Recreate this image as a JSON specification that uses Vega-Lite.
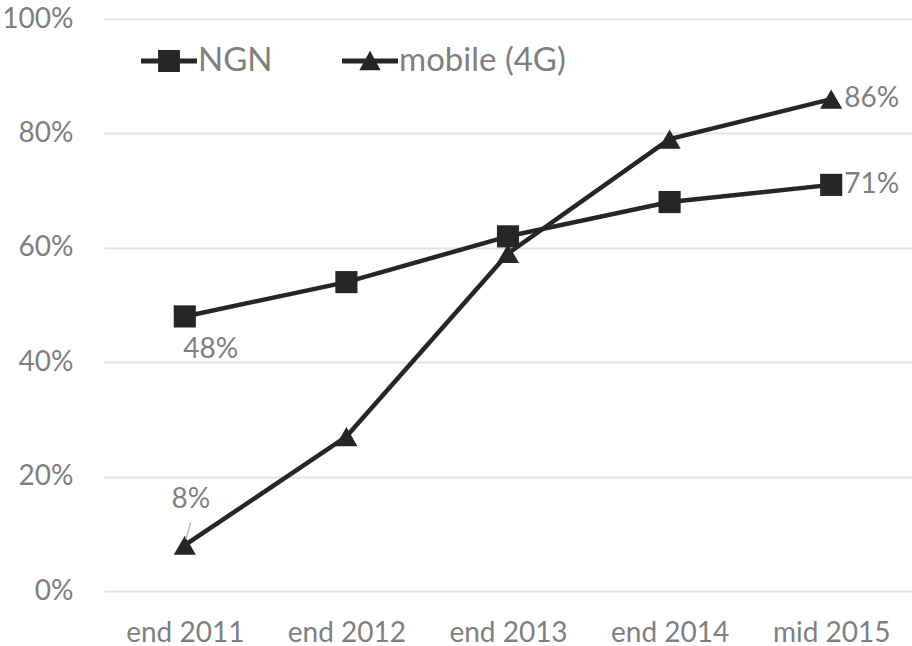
{
  "$schema": "https://vega.github.io/schema/vega-lite/v6.json",
  "width": 808,
  "height": 572,
  "autosize": {"type": "none"},
  "padding": {"left": 104, "top": 19, "right": 0, "bottom": 55},
  "config": {
    "view": {"stroke": null},
    "font": "Lato",
    "axis": {"labelFont": "Lato", "labelColor": "#7f7f7f", "labelFontSize": 28},
    "legend": {"labelFont": "Lato"}
  },
  "data": {
    "values": [
      {"period": "end 2011", "series": "NGN", "value": 0.48},
      {"period": "end 2012", "series": "NGN", "value": 0.54},
      {"period": "end 2013", "series": "NGN", "value": 0.62},
      {"period": "end 2014", "series": "NGN", "value": 0.68},
      {"period": "mid 2015", "series": "NGN", "value": 0.71},
      {"period": "end 2011", "series": "mobile (4G)", "value": 0.08},
      {"period": "end 2012", "series": "mobile (4G)", "value": 0.27},
      {"period": "end 2013", "series": "mobile (4G)", "value": 0.59},
      {"period": "end 2014", "series": "mobile (4G)", "value": 0.79},
      {"period": "mid 2015", "series": "mobile (4G)", "value": 0.86}
    ]
  },
  "resolve": {"scale": {"shape": "independent"}, "legend": {"shape": "independent"}},
  "encoding": {
    "x": {
      "field": "period",
      "type": "ordinal",
      "sort": ["end 2011", "end 2012", "end 2013", "end 2014", "mid 2015"],
      "scale": {"type": "point", "padding": 0.5},
      "axis": {
        "title": null,
        "labelAngle": 0,
        "domain": false,
        "ticks": false,
        "grid": false,
        "labelBaseline": "alphabetic",
        "labelPadding": 50
      }
    },
    "y": {
      "field": "value",
      "type": "quantitative",
      "scale": {"domain": [0, 1], "nice": false},
      "axis": {
        "title": null,
        "values": [0, 0.2, 0.4, 0.6, 0.8, 1],
        "format": ".0%",
        "domain": false,
        "ticks": false,
        "grid": true,
        "gridColor": "#e3e3e3",
        "gridWidth": 2,
        "labelPadding": 31
      }
    }
  },
  "layer": [
    {
      "mark": {"type": "line", "color": "#262626", "strokeWidth": 4.5},
      "encoding": {"detail": {"field": "series"}}
    },
    {
      "mark": {"type": "point", "filled": true, "opacity": 1, "color": "#262626", "size": 490},
      "encoding": {
        "shape": {
          "field": "series",
          "type": "nominal",
          "scale": {"domain": ["NGN", "mobile (4G)"], "range": ["square", "triangle-up"]},
          "legend": null
        }
      }
    },
    {
      "transform": [{"filter": "false"}],
      "mark": {"type": "point", "filled": true, "opacity": 1, "color": "#262626"},
      "encoding": {
        "shape": {
          "field": "series",
          "type": "nominal",
          "scale": {
            "domain": ["NGN", "mobile (4G)"],
            "range": ["M-1,-0.085H1V0.085H-1ZM-0.39,-0.39H0.39V0.39H-0.39Z", "M-1,-0.085H1V0.085H-1ZM0,-0.37L0.38,0.33H-0.38Z"]
          },
          "legend": {
            "title": null,
            "orient": "none",
            "legendX": 36,
            "legendY": 13,
            "direction": "horizontal",
            "padding": 0,
            "symbolSize": 3136,
            "symbolFillColor": "#262626",
            "symbolOpacity": 1,
            "labelFontSize": 33,
            "labelColor": "#7f7f7f",
            "labelOffset": 0,
            "labelLimit": 400,
            "columnPadding": 66
          }
        }
      }
    },
    {
      "transform": [{"filter": "datum.period === 'mid 2015'"}],
      "mark": {"type": "text", "align": "left", "baseline": "middle", "dx": 13, "fontSize": 28, "color": "#7f7f7f"},
      "encoding": {"text": {"field": "value", "type": "quantitative", "format": ".0%"}}
    },
    {
      "transform": [{"filter": "datum.period === 'end 2011' && datum.series === 'NGN'"}],
      "mark": {"type": "text", "align": "center", "baseline": "middle", "dx": 26, "dy": 34, "fontSize": 28, "color": "#7f7f7f"},
      "encoding": {"text": {"field": "value", "type": "quantitative", "format": ".0%"}}
    },
    {
      "transform": [{"filter": "datum.period === 'end 2011' && datum.series === 'mobile (4G)'"}],
      "mark": {"type": "text", "align": "center", "baseline": "middle", "dx": 6, "dy": -45, "fontSize": 28, "color": "#7f7f7f"},
      "encoding": {"text": {"field": "value", "type": "quantitative", "format": ".0%"}}
    },
    {
      "transform": [{"filter": "datum.period === 'end 2011' && datum.series === 'mobile (4G)'"}],
      "mark": {"type": "rule", "color": "#bfbfbf", "strokeWidth": 1.5, "xOffset": 6, "yOffset": -23, "x2Offset": 1, "y2Offset": -6},
      "encoding": {
        "x2": {"field": "period"},
        "y2": {"field": "value"}
      }
    }
  ]
}
